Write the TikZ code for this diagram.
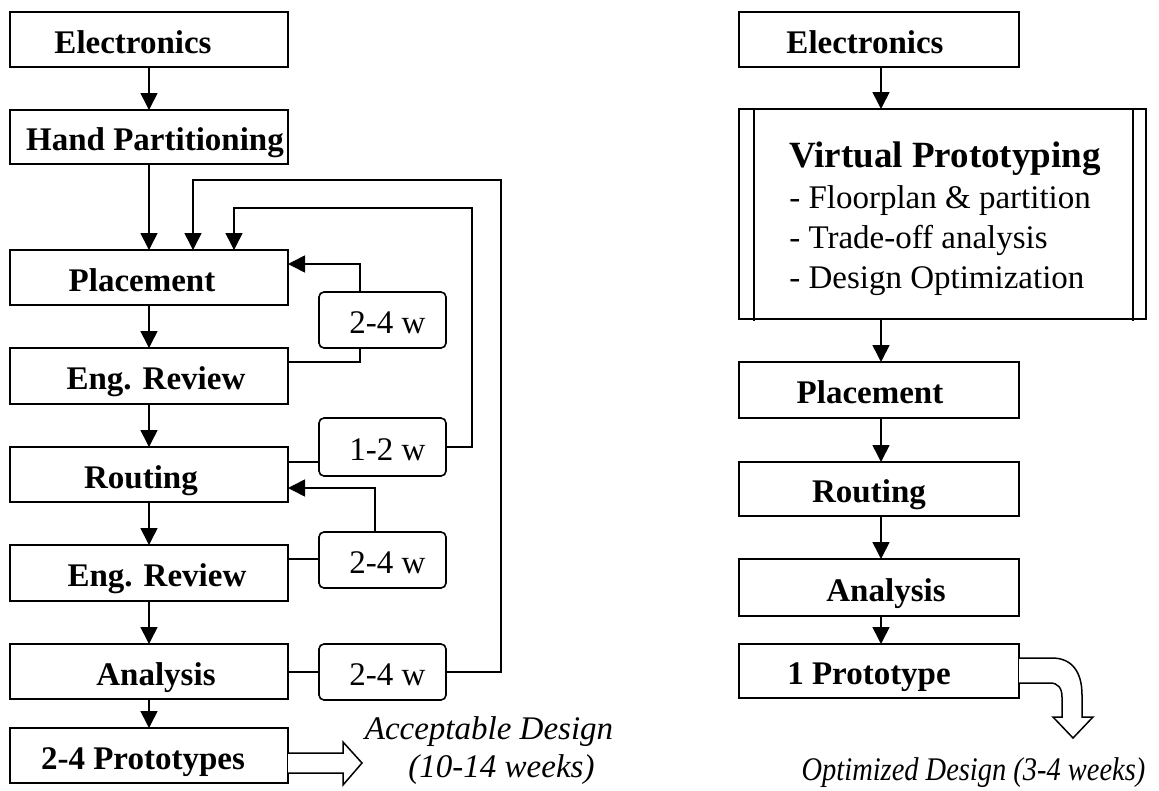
\documentclass[tikz,border=0pt]{standalone}
\usepackage{fontspec}
\usepackage{graphicx}
\setmainfont{Liberation Serif}
\usetikzlibrary{arrows.meta,calc}

% shift the text inside a fixed-width box sideways by #1/2
\newcommand\movetext[2]{\hspace*{#1}#2}

\begin{document}
\begin{tikzpicture}[x=1pt,y=-1pt,
  every node/.style={inner sep=0pt,outer sep=0pt},
  link/.style={line width=1.6pt},
  arr/.style={link,-{Triangle[width=17pt,length=17pt]}},
  stepbox/.style={draw,line width=1.6pt,minimum width=278pt,minimum height=55pt,
    font=\fontsize{33}{40}\selectfont\bfseries,text height=27pt,text depth=0pt},
  widebox/.style={stepbox,minimum width=280pt},
  timebox/.style={draw,line width=1.6pt,rounded corners=5pt,minimum width=127pt,
    minimum height=56pt,font=\fontsize{33}{40}\selectfont,text height=27pt,text depth=0pt},
  vpbox/.style={draw,line width=1.6pt,minimum width=407pt,minimum height=210pt},
  vptext/.style={align=left,font=\fontsize{33}{40}\selectfont},
  outcome/.style={font=\fontsize{33}{40}\selectfont\itshape,anchor=base},
  hollow/.style={line width=1.5pt,line join=miter,fill=white}
]
\useasboundingbox (0,0) rectangle (1159,790);

% ---------------- conventional flow ----------------
\node[stepbox] (el1)   at (149,39.5)  {\movetext{-32pt}{Electronics}};
\node[stepbox,minimum height=54pt] (hp) at (149,137) {\movetext{12pt}{Hand Partitioning}};
\node[stepbox] (pl)    at (149,277.5) {\movetext{-14pt}{Placement}};
\node[stepbox,minimum height=56pt] (er1) at (149,376) {\movetext{14pt}{Eng. Review}};
\node[stepbox] (rt)    at (149,474.5) {\movetext{-16pt}{Routing}};
\node[stepbox,minimum height=56pt] (er2) at (149,573) {\movetext{16pt}{Eng. Review}};
\node[stepbox] (an1)   at (149,671.5) {\movetext{14pt}{Analysis}};
\node[stepbox] (proto) at (149,755.5) {\movetext{-12pt}{2-4 Prototypes}};

\node[timebox] (tA) at (382.5,320) {\movetext{10pt}{2-4 w}};
\node[timebox,minimum height=58pt] (tB) at (382.5,447) {\movetext{10pt}{1-2 w}};
\node[timebox] (tC) at (382.5,560) {\movetext{10pt}{2-4 w}};
\node[timebox] (tD) at (382.5,672) {\movetext{10pt}{2-4 w}};

\draw[arr] (el1) -- (hp);
\draw[arr] (hp) -- (pl);
\draw[arr] (pl) -- (er1);
\draw[arr] (er1) -- (rt);
\draw[arr] (rt) -- (er2);
\draw[arr] (er2) -- (an1);
\draw[arr] (an1) -- (proto);

% review loops back into placement
\draw[link] (er1.east |- 0,362) -| (tA.south -| 360,0);
\draw[arr] (tA.north -| 360,0) |- (pl.east |- 0,264);
% routing iteration back into placement
\draw[link] (rt.east |- 0,462) -- (tB.west |- 0,462);
\draw[arr] (tB.east) -| (472,208) -| (pl.north -| 234,0);
% review loops back into routing
\draw[link] (er2.east |- 0,559) -- (tC.west |- 0,559);
\draw[arr] (tC.north -| 375,0) |- (rt.east |- 0,488);
% analysis loops back into placement
\draw[link] (an1.east |- 0,672) -- (tD.west);
\draw[arr] (tD.east) -| (501,180) -| (pl.north -| 193,0);

% outcome of the conventional flow
\draw[hollow] (proto.east |- 0,753) -- (343,753) -- (343,742) -- (362,763)
  -- (343,785) -- (343,773) -- (proto.east |- 0,773);
\node[outcome] (acc1) at (489,739) {Acceptable Design};
\node[outcome] (acc2) at (501.5,777) {(10-14 weeks)};

% ---------------- virtual prototyping flow ----------------
\node[widebox] (el2) at (879,39.5) {\movetext{-28pt}{Electronics}};
\node[vpbox] (vp) at (942.5,214) {};
\draw[line width=1.6pt] ($(vp.north west)+(15,0)$) -- ($(vp.south west)+(15,2)$);
\draw[line width=1.6pt] ($(vp.north east)+(-13,0)$) -- ($(vp.south east)+(-13,2)$);
\node[vptext] (vplist) at (945,218.5)
  {{\fontsize{37}{44}\selectfont\bfseries Virtual Prototyping}\\[1pt]
   - Floorplan \& partition\\
   - Trade-off analysis\\
   - Design Optimization};
\node[widebox,minimum height=56pt] (pl2) at (879,390) {\movetext{-18pt}{Placement}};
\node[widebox,minimum height=54pt] (rt2) at (879,489) {\movetext{-20pt}{Routing}};
\node[widebox,minimum height=57pt] (an2) at (879,587.5) {\movetext{14pt}{Analysis}};
\node[widebox,minimum height=54pt] (one) at (879,671) {\movetext{-20pt}{1 Prototype}};

\draw[arr] (el2.south -| 881,0) -- (vp.north -| 881,0);
\draw[arr] (vp.south -| 881,0) -- (pl2.north -| 881,0);
\draw[arr] (pl2.south -| 881,0) -- (rt2.north -| 881,0);
\draw[arr] (rt2.south -| 881,0) -- (an2.north -| 881,0);
\draw[arr] (an2.south -| 881,0) -- (one.north -| 881,0);

% bent outcome arrow
\draw[hollow] (one.east |- 0,658) -- (1052,658)
  .. controls (1072,658) and (1082,672) .. (1082,695) -- (1082,717)
  -- (1093,717) -- (1073,738) -- (1053,717) -- (1062,717) -- (1062,697)
  .. controls (1062,688) and (1058,683) .. (1050,683) -- (one.east |- 0,683);
\node[outcome] (opt) at (973.5,780) {\scalebox{0.862}[1]{Optimized Design (3-4 weeks)}};
\end{tikzpicture}
\end{document}
